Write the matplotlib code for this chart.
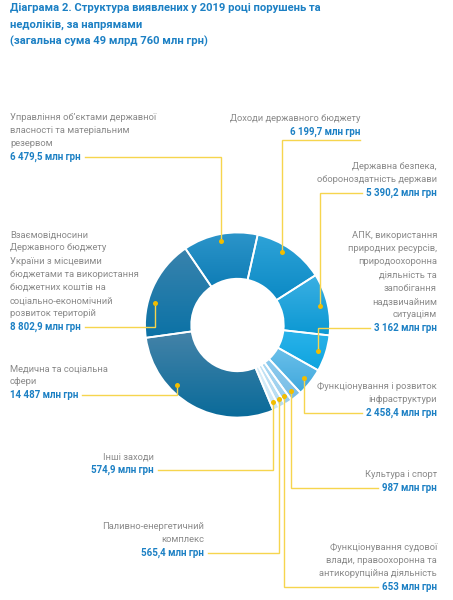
import matplotlib
matplotlib.use('Agg')
import matplotlib.pyplot as plt
from matplotlib import font_manager
import numpy as np

# ---------------- data ----------------
categories = [
    "Доходи державного бюджету",
    "Державна безпека, обороноздатність держави",
    "АПК, використання природних ресурсів, природоохоронна діяльність та запобігання надзвичайним ситуаціям",
    "Функціонування і розвиток інфраструктури",
    "Культура і спорт",
    "Функціонування судової влади, правоохоронна та антикорупційна діяльність",
    "Паливно-енергетичний комплекс",
    "Інші заходи",
    "Медична та соціальна сфери",
    "Взаємовідносини Державного бюджету України з місцевими бюджетами та використання бюджетних коштів на соціально-економічний розвиток територій",
    "Управління об’єктами державної власності та матеріальним резервом",
]
values = [6199.7, 5390.2, 3162.0, 2458.4, 987.0, 653.0, 565.4, 574.9, 14487.0, 8802.9, 6479.5]
label_lines = [
    ["Доходи державного бюджету"],
    ["Державна безпека,", "обороноздатність держави"],
    ["АПК, використання", "природних ресурсів,", "природоохоронна", "діяльність та",
     "запобігання", "надзвичайним", "ситуаціям"],
    ["Функціонування і розвиток", "інфраструктури"],
    ["Культура і спорт"],
    ["Функціонування судової", "влади, правоохоронна та", "антикорупційна діяльність"],
    ["Паливно-енергетичний", "комплекс"],
    ["Інші заходи"],
    ["Медична та соціальна", "сфери"],
    ["Взаємовідносини", "Державного бюджету", "України з місцевими",
     "бюджетами та використання", "бюджетних коштів на", "соціально-економічний",
     "розвиток територій"],
    ["Управління об’єктами державної", "власності та матеріальним", "резервом"],
]
title_lines = [
    "Діаграма 2. Структура виявлених у 2019 році порушень та",
    "недоліків, за напрямами",
    "(загальна сума 49 млрд 760 млн грн)",
]
unit = "млн грн"

# ---------------- style / layout ----------------
col_top = ["#2ea3d8", "#3bb0e3", "#2bb3ea", "#6cc0ea", "#8ecbee", "#aad8f2",
           "#c2e3f5", "#d8eef9", "#4583a8", "#3983ad", "#2c95ca"]
col_bot = ["#0c8ac5", "#0c98d3", "#0ea4df", "#3fa8dd", "#78bde6", "#98cdee",
           "#b4dbf2", "#cde8f7", "#0a6b9a", "#0b72a6", "#0f7db6"]
# label layout (image pixel coords, y from top): x, y of value line, ha, leader mode
lay_x = [360, 437, 437, 437, 437, 437, 204, 154, 10, 10, 10]
lay_y = [132, 193, 328, 413, 488, 587, 553, 470, 395, 327, 157]
lay_ha = ["right", "right", "right", "right", "right", "right", "right", "right", "left", "left", "left"]
lay_mode = ["below", "side", "side", "side", "side", "side", "side", "side", "side", "side", "side"]
anchor_frac = [0.42, 0.5, 0.5, 0.5, 0.5, 0.5, 0.5, 0.5, 0.65, 0.36, 0.5]

W, H = 453, 600
CX, CY, R = 237.5, 325.0, 92.5
HOLE = 0.50
START = 77.4   # degrees, clockwise from here

BLUE = "#1c80c4"
GRAY = "#8a8a8a"
YEL = "#f6d54e"
DOT = "#f2bd00"

names = {f.name for f in font_manager.fontManager.ttflist}
if "Liberation Sans Narrow" in names:
    FONT = ["Liberation Sans Narrow", "DejaVu Sans"]
    fs_title, fs_lab, fs_val = 9.0, 7.6, 7.4
else:
    FONT = ["Roboto", "DejaVu Sans"]
    fs_title, fs_lab, fs_val = 8.1, 6.75, 7.0
plt.rcParams['font.family'] = FONT


def Y(y):
    return H - y


def fmt(v):
    if abs(v - round(v)) < 1e-9:
        s = f"{int(round(v)):,}".replace(",", " ")
    else:
        s = f"{v:,.1f}".replace(",", " ").replace(".", ",")
    return f"{s} {unit}"


fig = plt.figure(figsize=(W / 100, H / 100), dpi=100)
ax = fig.add_axes([0, 0, 1, 1])

wedges, _ = ax.pie(values, startangle=START, counterclock=False, radius=R,
                   center=(CX, Y(CY)),
                   wedgeprops=dict(width=R * (1 - HOLE), edgecolor="white", linewidth=1.3))
ax.set_xlim(0, W)
ax.set_ylim(0, H)
ax.set_aspect('equal')
ax.axis('off')

# gradient fill for each wedge
for i, w in enumerate(wedges):
    ext = w.get_path().get_extents()
    c1 = np.array(matplotlib.colors.to_rgb(col_top[i]))
    c2 = np.array(matplotlib.colors.to_rgb(col_bot[i]))
    t = np.linspace(0, 1, 64)[:, None]
    grad = (c1[None, :] * (1 - t) + c2[None, :] * t)[:, None, :]
    im = ax.imshow(grad, extent=(ext.x0, ext.x1, ext.y0, ext.y1), origin='upper',
                   aspect='auto', zorder=1, interpolation='bilinear')
    im.set_clip_path(w)
    w.set_facecolor('none')
    w.set_zorder(2)

# title
for k, line in enumerate(title_lines):
    ax.text(10, Y(8 + 16.5 * k), line, color=BLUE, fontsize=fs_title, fontweight='bold',
            ha='left', va='center')

fig.canvas.draw()
rend = fig.canvas.get_renderer()

# labels + leaders
total = sum(values)
cum = 0.0
for i, v in enumerate(values):
    a0 = START - 360 * cum / total
    span = 360 * v / total
    cum += v
    ang = np.deg2rad(a0 - span * anchor_frac[i])
    dx = CX + 0.92 * R * np.cos(ang)
    dy = Y(CY) + 0.92 * R * np.sin(ang)

    vy = Y(lay_y[i])
    tv = ax.text(lay_x[i], vy, fmt(v), color=BLUE, fontsize=fs_val, fontweight='bold',
                 ha=lay_ha[i], va='center', zorder=5)
    n = len(label_lines[i])
    for k, line in enumerate(label_lines[i]):
        ax.text(lay_x[i], vy + 13.2 * (n - k), line, color=GRAY, fontsize=fs_lab,
                ha=lay_ha[i], va='center', zorder=5)
    bb = tv.get_window_extent(rend)
    if lay_mode[i] == "below":
        ly = vy - 8
        lx = bb.x1
    else:
        ly = vy
        lx = bb.x0 - 4 if dx < bb.x0 else bb.x1 + 4
    ax.plot([lx, dx, dx], [ly, ly, dy], color=YEL, lw=1.0, zorder=4,
            solid_joinstyle='miter')
    ax.plot([dx], [dy], 'o', color=DOT, ms=3.6, mec='none', zorder=6)

fig.savefig("out.png", dpi=100, facecolor="white")
